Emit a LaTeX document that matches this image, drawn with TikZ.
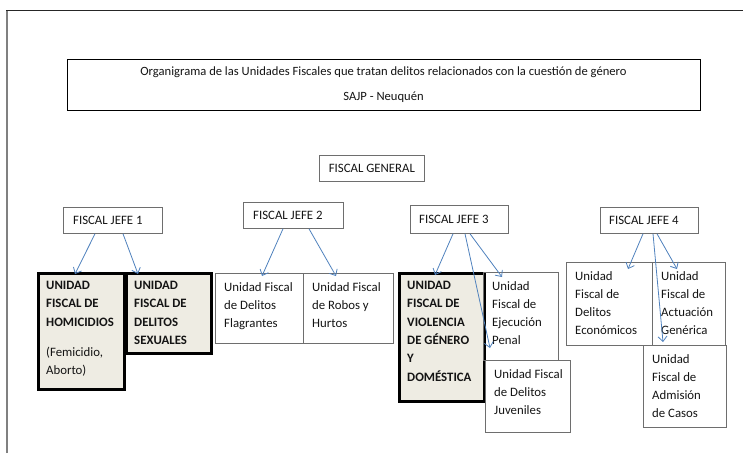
\documentclass[tikz,border=0pt]{standalone}
\usepackage{fontspec}
\setmainfont{Carlito}
\usetikzlibrary{arrows.meta,calc}
\definecolor{unitfill}{RGB}{238,236,227}
\definecolor{arrowblue}{RGB}{79,129,189}
\definecolor{boxgray}{RGB}{110,110,110}
\definecolor{txt}{RGB}{20,20,20}
\tikzset{
  bodyfont/.style={font=\fontsize{12.8}{18.3}\selectfont, text=txt},
  boss/.style={draw=boxgray, line width=0.8pt, anchor=north west, inner sep=0pt, bodyfont},
  plainunit/.style={draw=boxgray, line width=0.8pt, anchor=north west, inner sep=0pt},
  boldunit/.style={draw=black, line width=2.6pt, fill=unitfill, anchor=north west, inner sep=0pt},
  unittext/.style={anchor=north west, inner sep=0pt, align=left, bodyfont},
  link/.style={draw=arrowblue, line width=0.8pt, -{Straight Barb[length=5pt,width=9pt]}},
}
\newcommand{\unitbox}[7]{%
  \node[#1, minimum width=#5pt, minimum height=#6pt] (#2) at (#3,#4) {};
  \node[unittext] (#2t) at ([shift={(9pt,-9pt)}]#2.north west) {#7};
}
\begin{document}
\begin{tikzpicture}[x=1pt,y=-1pt]
\useasboundingbox (0,0) rectangle (743,453);
% page frame
\draw[gray, line width=2pt] (7,453) -- (7,10);
\draw[black!85, line width=1pt] (6,10) -- (743,10);
% title
\node[draw=black, line width=0.9pt, anchor=north west, minimum width=633pt, minimum height=51pt, inner sep=0pt] (title) at (67,59) {};
\node[font=\fontsize{12.6}{14}\selectfont, text=txt] (t1) at (383.5,72) {Organigrama de las Unidades Fiscales que tratan delitos relacionados con la cuestión de género};
\node[font=\fontsize{12.6}{14}\selectfont, text=txt] (t2) at (383.5,97) {SAJP - Neuquén};
% bosses
\node[boss, minimum width=105pt, minimum height=26pt] (fg) at (319,155) {};
\node[bodyfont] at (fg.center) {FISCAL GENERAL};
\node[boss, minimum width=99pt, minimum height=26pt] (j1) at (63,207) {};
\node[bodyfont, anchor=west, inner sep=0pt] at ([xshift=10pt]j1.west) {FISCAL JEFE 1};
\node[boss, minimum width=100pt, minimum height=26pt] (j2) at (243,202) {};
\node[bodyfont, anchor=west, inner sep=0pt] at ([xshift=10pt]j2.west) {FISCAL JEFE 2};
\node[boss, minimum width=98pt, minimum height=28pt] (j3) at (410,205) {};
\node[bodyfont, anchor=west, inner sep=0pt] at ([xshift=9pt]j3.west) {FISCAL JEFE 3};
\node[boss, minimum width=98pt, minimum height=26pt] (j4) at (600,207) {};
\node[bodyfont, anchor=west, inner sep=0pt] at ([xshift=9pt]j4.west) {FISCAL JEFE 4};
% units
\unitbox{boldunit}{hom}{37}{272}{86}{116}{\bfseries UNIDAD\\\bfseries FISCAL DE\\\bfseries HOMICIDIOS\\[11.7pt](Femicidio,\\Aborto)}
\unitbox{boldunit}{sex}{125}{272}{85}{80}{\bfseries UNIDAD\\\bfseries FISCAL DE\\\bfseries DELITOS\\\bfseries SEXUALES}
\unitbox{plainunit}{fla}{215}{273}{88}{70}{Unidad Fiscal\\de Delitos\\Flagrantes}
\unitbox{plainunit}{rob}{303}{273}{90}{70}{Unidad Fiscal\\de Robos y\\Hurtos}
\unitbox{boldunit}{vio}{398}{272}{85}{128}{\bfseries UNIDAD\\\bfseries FISCAL DE\\\bfseries VIOLENCIA\\\bfseries DE GÉNERO\\\bfseries Y\\\bfseries DOMÉSTICA}
\unitbox{plainunit}{eje}{483}{272}{75}{88}{Unidad\\Fiscal de\\Ejecución\\Penal}
\unitbox{plainunit}{juv}{485}{360}{85}{72}{Unidad Fiscal\\de Delitos\\Juveniles}
\unitbox{plainunit}{eco}{566}{262}{86}{83}{Unidad\\Fiscal de\\Delitos\\Económicos}
\unitbox{plainunit}{gen}{652}{262}{73}{83}{Unidad\\Fiscal de\\Actuación\\Genérica}
\unitbox{plainunit}{adm}{643}{345}{83}{82}{Unidad\\Fiscal de\\Admisión\\de Casos}
% connectors
\draw[link] ([xshift=32pt]j1.south west) -- ([xshift=38pt,yshift=-2pt]hom.north west);
\draw[link] ([xshift=60pt]j1.south west) -- ([xshift=13pt,yshift=-2pt]sex.north west);
\draw[link] ([xshift=40pt]j2.south west) -- ([xshift=47pt,yshift=-3pt]fla.north west);
\draw[link] ([xshift=66pt]j2.south west) -- ([xshift=33pt,yshift=-3pt]rob.north west);
\draw[link] ([xshift=43pt]j3.south west) -- ([xshift=37pt,yshift=-3pt]vio.north west);
\draw[link] ([xshift=60pt]j3.south west) -- ([xshift=19pt,yshift=-5pt]eje.north west);
\draw[link] ([xshift=55pt]j3.south west) -- ([xshift=5pt,yshift=12pt]juv.north west);
\draw[link] ([xshift=43pt]j4.south west) -- ([xshift=62pt,yshift=-7pt]eco.north west);
\draw[link] ([xshift=57pt]j4.south west) -- ([xshift=25pt,yshift=-7pt]gen.north west);
\draw[link] ([xshift=53pt]j4.south west) -- ([xshift=20pt,yshift=3pt]adm.north west);
\end{tikzpicture}
\end{document}
